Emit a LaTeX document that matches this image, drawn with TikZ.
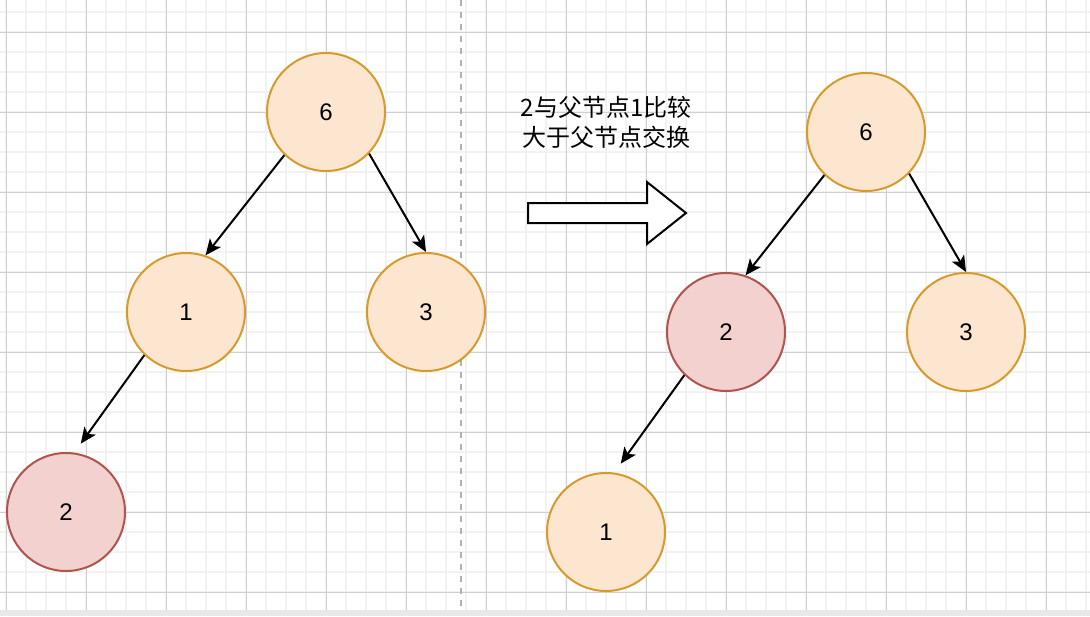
\documentclass[tikz,border=0pt]{standalone}
\usepackage{fontspec}
\setmainfont{Liberation Sans}
\newfontfamily\cjk{Noto Sans CJK SC}
\usepackage{tikz}
\usetikzlibrary{arrows.meta}
\usetikzlibrary{positioning}
\definecolor{nodefill}{HTML}{FCE6CF}
\definecolor{nodeline}{HTML}{D69B2E}
\definecolor{swapfill}{HTML}{F2D1CF}
\definecolor{swapline}{HTML}{B0544F}
\definecolor{minorline}{HTML}{F2F2F2}
\definecolor{majorline}{HTML}{D0D0D0}
\tikzset{
    heapnode/.style={
           circle,
           draw=nodeline, fill=nodefill, line width=2pt,
           minimum size=118pt,
           inner sep=0pt,
           font=\fontsize{24}{29}\selectfont,
           },
    swapnode/.style={
           heapnode,
           draw=swapline, fill=swapfill,
           },
    link/.style={->, line width=2pt, black},
}

\begin{document}
\begin{tikzpicture}[x=1pt,y=-1pt,>={Stealth[length=16pt,width=14pt,inset=4pt]}]

    \fill[white] (0,0) rectangle (1090,616);
    \useasboundingbox (0,0) rectangle (1090,616);
    \foreach \gx in {6,26,...,1086} \draw[minorline,line width=1.3pt] (\gx,0) -- (\gx,610);
    \foreach \gy in {12,32,...,592} \draw[minorline,line width=1.3pt] (0,\gy) -- (1090,\gy);
    \foreach \gx in {6,86,...,1046} \draw[majorline,line width=1pt] (\gx,0) -- (\gx,610);
    \foreach \gy in {32,112,...,592} \draw[majorline,line width=1pt] (0,\gy) -- (1090,\gy);
    \fill[black!9] (0,610) rectangle (1090,616);
    \draw[black!30,line width=2pt,dash pattern=on 6pt off 6pt] (461,0) -- (461,610);

    % before the swap
    \node[heapnode] (six) at (326,112) {6};
    \node[heapnode,below of=six,node distance=200pt,xshift=-140pt]
        (one) {1};
    \node[heapnode,below of=six,node distance=200pt,xshift=100pt]
        (three) {3};
    \node[swapnode,below of=one,node distance=200pt,xshift=-120pt]
        (two) {2};

    \path (six.226) edge[link] (one.71);
    \path (six.316) edge[link] (three.north);
    \path (one.226) edge[link,shorten >=11pt] (two.82);

    % the step
    \node[font=\cjk\fontsize{24}{30}\selectfont,align=center]
        (note) at (606,122) {2与父节点1比较\\大于父节点交换};
    \draw[line width=2pt,fill=white,line join=miter]
        (528,203) -- (647,203) -- (647,182) -- (686,213) -- (647,244) -- (647,223) -- (528,223) -- cycle;

    % after the swap
    \node[heapnode] (sixB) at (866,132) {6};
    \node[swapnode,below of=sixB,node distance=200pt,xshift=-140pt]
        (twoB) {2};
    \node[heapnode,below of=sixB,node distance=200pt,xshift=100pt]
        (threeB) {3};
    \node[heapnode,below of=twoB,node distance=200pt,xshift=-120pt]
        (oneB) {1};

    \path (sixB.226) edge[link] (twoB.71);
    \path (sixB.316) edge[link] (threeB.north);
    \path (twoB.226) edge[link,shorten >=11pt] (oneB.82);

\end{tikzpicture}
\end{document}
